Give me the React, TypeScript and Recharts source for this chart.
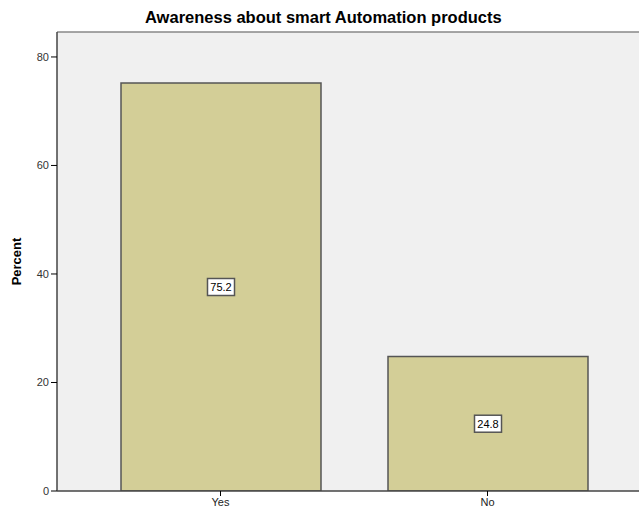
import React from 'react';
import { BarChart, Bar, XAxis, YAxis, CartesianGrid, ReferenceLine, LabelList } from 'recharts';

const categories = ['Yes', 'No'];
const percents = [75.2, 24.8];
const yTicks = [0, 20, 40, 60, 80];
const yMax = 84.6;

const chartData = categories.map((name, i) => ({ name, percent: percents[i] }));

const font = '"Liberation Sans", Arial, sans-serif';

const BoxLabel = (props: any) => {
  const { x, y, width, height, value } = props;
  const cx = x + width / 2;
  const cy = y + height / 2;
  const text = Number(value).toFixed(1);
  const w = 27;
  const h = 17;
  return (
    <g>
      <rect x={cx - w / 2} y={cy - h / 2} width={w} height={h} fill="#ffffff" stroke="#555555" strokeWidth={1.5} />
      <text x={cx} y={cy + 4} textAnchor="middle" fontSize={11} fontFamily={font} fill="#000">
        {text}
      </text>
    </g>
  );
};

const App: React.FC = () => {
  return (
    <div style={{ position: 'absolute', left: 0, top: 0, background: '#fff' }}>
      <div
        style={{
          position: 'absolute',
          top: 8,
          left: 145,
          fontFamily: font,
          fontSize: 16.5,
          fontWeight: 'bold',
          color: '#000',
          whiteSpace: 'nowrap',
        }}
      >
        Awareness about smart Automation products
      </div>
      <BarChart width={639} height={510} data={chartData} margin={{ top: 32, right: 0, bottom: 0, left: 0 }}>
        <CartesianGrid fill="#f0f0f0" horizontal={false} vertical={false} />
        <ReferenceLine y={yMax} stroke="#888888" strokeWidth={1.5} ifOverflow="extendDomain" />
        <XAxis
          dataKey="name"
          height={19}
          padding={{ left: 30, right: 18 }}
          axisLine={{ stroke: '#444', strokeWidth: 1.5 }}
          tickLine={{ stroke: '#000' }}
          tickSize={5}
          tick={{ fontSize: 11, fontFamily: font, fill: '#222' }}
        />
        <YAxis
          width={57}
          domain={[0, yMax]}
          ticks={yTicks}
          allowDataOverflow
          axisLine={{ stroke: '#444', strokeWidth: 1.5 }}
          tickLine={{ stroke: '#000' }}
          tickSize={6}
          tick={{ fontSize: 11, fontFamily: font, fill: '#333' }}
          label={{
            value: 'Percent',
            angle: -90,
            position: 'insideLeft',
            offset: 16,
            style: { fontSize: 13, fontWeight: 'bold', fontFamily: font, fill: '#000', textAnchor: 'middle' },
          }}
        />
        <Bar dataKey="percent" fill="#d3ce97" stroke="#555555" strokeWidth={1.5} barSize={200} isAnimationActive={false}>
          <LabelList dataKey="percent" content={BoxLabel} />
        </Bar>
      </BarChart>
    </div>
  );
};

export default App;
